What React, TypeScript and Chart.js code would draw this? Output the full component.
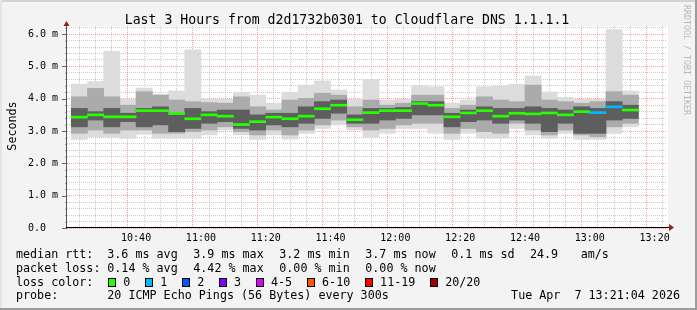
import React, { useEffect, useRef } from "react";
import { Chart, registerables } from "chart.js";

Chart.register(...registerables);

// ---- data ----
const slotTimes = [
  "10:20", "10:25", "10:30", "10:35", "10:40", "10:45", "10:50", "10:55",
  "11:00", "11:05", "11:10", "11:15", "11:20", "11:25", "11:30", "11:35",
  "11:40", "11:45", "11:50", "11:55", "12:00", "12:05", "12:10", "12:15",
  "12:20", "12:25", "12:30", "12:35", "12:40", "12:45", "12:50", "12:55",
  "13:00", "13:05", "13:10",
];
// smoke: outer range (ms)
const smokeMax = [4.45, 4.53, 5.47, 3.99, 4.33, 4.14, 4.24, 5.51, 3.99, 3.98, 4.2, 4.11, 3.86, 4.2, 4.42, 4.55, 4.27, 3.98, 4.6, 3.96, 3.98, 4.41, 4.37, 3.86, 3.96, 4.37, 4.39, 4.45, 4.7, 4.21, 4.04, 3.98, 3.98, 6.14, 4.24];
const smokeMin = [2.74, 2.82, 2.8, 2.77, 2.9, 2.77, 2.77, 2.77, 2.88, 3.03, 2.88, 2.74, 2.88, 2.75, 2.93, 3.08, 3.19, 3.03, 2.8, 2.93, 3.08, 3.08, 2.93, 2.74, 2.93, 2.77, 2.77, 3.08, 2.88, 2.77, 2.93, 2.74, 2.74, 2.93, 3.13];
// smoke: middle band
const smokeUpper = [4.06, 4.32, 4.06, 3.8, 4.22, 4.11, 3.96, 3.91, 3.88, 3.86, 4.06, 3.75, 3.65, 3.96, 4.01, 4.17, 4.11, 3.75, 3.96, 3.8, 3.86, 4.11, 4.11, 3.7, 3.8, 4.06, 3.96, 3.91, 4.42, 3.96, 3.91, 3.86, 3.91, 4.22, 4.11];
const smokeLower = [2.93, 3.03, 2.93, 3.03, 3.03, 2.93, 2.93, 2.98, 3.03, 3.13, 2.98, 2.88, 3.03, 2.88, 3.03, 3.19, 3.34, 3.13, 3.03, 3.08, 3.19, 3.24, 3.24, 2.93, 3.08, 2.98, 2.93, 3.24, 3.03, 2.88, 3.03, 2.88, 2.82, 3.13, 3.24];
// smoke: dark core
const coreUpper = [3.7, 3.6, 3.7, 3.55, 3.7, 3.75, 3.55, 3.7, 3.6, 3.65, 3.65, 3.5, 3.55, 3.55, 3.75, 3.91, 3.96, 3.5, 3.7, 3.7, 3.73, 3.91, 3.91, 3.55, 3.65, 3.75, 3.7, 3.7, 3.75, 3.7, 3.65, 3.75, 3.7, 3.91, 3.8];
const coreLower = [3.13, 3.34, 3.13, 3.29, 3.13, 3.19, 2.98, 3.08, 3.24, 3.29, 3.08, 3.03, 3.19, 3.13, 3.24, 3.39, 3.55, 3.24, 3.24, 3.34, 3.39, 3.5, 3.5, 3.13, 3.29, 3.34, 3.24, 3.34, 3.24, 2.98, 3.24, 2.93, 2.93, 3.34, 3.39];
// median rtt (ms)
const medianRtt = [3.43, 3.5, 3.44, 3.44, 3.63, 3.63, 3.54, 3.38, 3.5, 3.46, 3.2, 3.29, 3.43, 3.38, 3.46, 3.69, 3.8, 3.35, 3.57, 3.63, 3.63, 3.85, 3.8, 3.44, 3.56, 3.63, 3.46, 3.55, 3.53, 3.56, 3.5, 3.6, 3.57, 3.75, 3.65];
// lost pings out of 20
const lostPings = [0, 0, 0, 0, 0, 0, 0, 0, 0, 0, 0, 0, 0, 0, 0, 0, 0, 0, 0, 0, 0, 0, 0, 0, 0, 0, 0, 0, 0, 0, 0, 0, 1, 1, 0];

const timeTickLabels = ["10:40", "11:00", "11:20", "11:40", "12:00", "12:20", "12:40", "13:00", "13:20"];
const yTickLabels = ["0.0  ", "1.0 m", "2.0 m", "3.0 m", "4.0 m", "5.0 m", "6.0 m"];

const lossColorLabels = ["0", "1", "2", "3", "4-5", "6-10", "11-19", "20/20"];
const lossColors = ["#26ff00", "#00b8ff", "#0059ff", "#7e00ff", "#dd00ff", "#ff5500", "#ff0000", "#a10000"];

const titleText = "Last 3 Hours from d2d1732b0301 to Cloudflare DNS 1.1.1.1";
const rttStats = ["3.6 ms avg", "3.9 ms max", "3.2 ms min", "3.7 ms now", "0.1 ms sd"];
const lossStats = ["0.14 % avg", "4.42 % max", "0.00 % min", "0.00 % now"];
const amsValue = "24.9";
const amsUnit = "am/s";
const probeText = "20 ICMP Echo Pings (56 Bytes) every 300s";
const dateText = "Tue Apr  7 13:21:04 2026";

// ---- helpers ----
const MONO = "'DejaVu Sans Mono', monospace";
const toMin = (s: string) => {
  const [h, m] = s.split(":").map(Number);
  return (h - 10) * 60 + m;
};
const lossIndex = (n: number) => (n <= 3 ? n : n <= 5 ? 4 : n <= 10 ? 5 : n <= 19 ? 6 : 7);
const isWhole = (v: number) => Math.abs(v - Math.round(v)) < 1e-6;

const X_MIN = 21.25;
const X_MAX = 201.25;

const decorPlugin = {
  id: "smokeDecor",
  beforeDraw(chart: any) {
    const { ctx, chartArea: a, width, height } = chart;
    ctx.save();
    ctx.fillStyle = "#f3f3f3";
    ctx.fillRect(0, 0, width, height);
    ctx.fillStyle = "#d2d2d2";
    ctx.fillRect(0, 0, width, 2);
    ctx.fillStyle = "#e4e4e4";
    ctx.fillRect(0, 0, 2, height);
    ctx.fillStyle = "#9c9c9c";
    ctx.fillRect(0, height - 2, width, 2);
    ctx.fillRect(width - 2, 0, 2, height);
    ctx.fillStyle = "#ffffff";
    ctx.fillRect(a.left, a.top, a.right - a.left + 1, a.bottom - a.top);
    ctx.restore();
  },
  afterDraw(chart: any) {
    const { ctx, chartArea: a, scales } = chart;
    const yS = scales.y;
    ctx.save();
    // y-axis tick marks
    yS.ticks.forEach((t: any) => {
      const py = Math.round(yS.getPixelForValue(t.value)) + 0.5;
      const major = isWhole(t.value);
      ctx.strokeStyle = major ? "#666" : "#999";
      ctx.lineWidth = 1;
      ctx.beginPath();
      ctx.moveTo(a.left - (major ? 5 : 2), py);
      ctx.lineTo(a.left, py);
      ctx.stroke();
    });
    // axes
    ctx.strokeStyle = "#555";
    ctx.beginPath();
    ctx.moveTo(a.left - 0.5, a.bottom);
    ctx.lineTo(a.left - 0.5, a.top - 3);
    ctx.stroke();
    ctx.strokeStyle = "#000";
    ctx.beginPath();
    ctx.moveTo(a.left - 1, a.bottom - 0.5);
    ctx.lineTo(a.right + 3, a.bottom - 0.5);
    ctx.stroke();
    // arrows
    ctx.fillStyle = "#9b1b1b";
    ctx.beginPath();
    ctx.moveTo(a.left - 3.5, a.top);
    ctx.lineTo(a.left + 2.5, a.top);
    ctx.lineTo(a.left - 0.5, a.top - 5);
    ctx.closePath();
    ctx.fill();
    ctx.beginPath();
    ctx.moveTo(a.right + 2, a.bottom - 4);
    ctx.lineTo(a.right + 2, a.bottom + 3);
    ctx.lineTo(a.right + 7, a.bottom - 0.5);
    ctx.closePath();
    ctx.fill();

    // title
    ctx.fillStyle = "#000";
    ctx.font = `13.2px ${MONO}`;
    ctx.textAlign = "center";
    ctx.textBaseline = "alphabetic";
    ctx.fillText(titleText, 347, 24);

    // vertical axis label
    ctx.font = `11.7px ${MONO}`;
    ctx.save();
    ctx.translate(15.5, 126);
    ctx.rotate(-Math.PI / 2);
    ctx.fillText("Seconds", 0, 0);
    ctx.restore();

    // watermark
    ctx.save();
    ctx.fillStyle = "#b8b8b8";
    ctx.font = `8.3px ${MONO}`;
    ctx.textAlign = "left";
    ctx.translate(683.5, 5);
    ctx.rotate(Math.PI / 2);
    ctx.fillText("RRDTOOL / TOBI OETIKER", 0, 0);
    ctx.restore();

    // legend
    ctx.fillStyle = "#000";
    ctx.font = `11.7px ${MONO}`;
    ctx.textAlign = "left";
    const rows = [258, 271.8, 285.6, 299.4];
    const cols = [107.3, 193.3, 279.3, 365.3, 451.3];
    ctx.fillText("median rtt:", 16, rows[0]);
    rttStats.forEach((s, i) => ctx.fillText(s, cols[i], rows[0]));
    ctx.fillText(amsValue, 530, rows[0]);
    ctx.fillText(amsUnit, 580.7, rows[0]);
    ctx.fillText("packet loss:", 16, rows[1]);
    lossStats.forEach((s, i) => ctx.fillText(s, cols[i], rows[1]));
    ctx.fillText("loss color:", 16, rows[2]);
    let bx = 108.3;
    lossColorLabels.forEach((lab, i) => {
      const x0 = Math.round(bx);
      ctx.fillStyle = "#000";
      ctx.fillRect(x0, 278, 8, 9);
      ctx.fillStyle = lossColors[i];
      ctx.fillRect(x0 + 1, 279, 6, 7);
      ctx.fillStyle = "#000";
      ctx.fillText(lab, bx + 15, rows[2]);
      bx = bx + 15 + ctx.measureText(lab).width + 14.9;
    });
    ctx.fillText("probe:", 16, rows[3]);
    ctx.fillText(probeText, 107.3, rows[3]);
    ctx.textAlign = "right";
    ctx.fillText(dateText, 680, rows[3]);
    ctx.restore();
  },
};

export default function App() {
  const canvasRef = useRef<HTMLCanvasElement | null>(null);

  useEffect(() => {
    const canvas = canvasRef.current;
    if (!canvas) return;
    const centers = slotTimes.map((t) => toMin(t) + 2.5);
    const band = (lo: number[], hi: number[]) => centers.map((x, i) => ({ x, y: [lo[i], hi[i]] }));
    const common = { grouped: false, barPercentage: 1, categoryPercentage: 1, borderWidth: 0, clip: 0 };

    const chart = new Chart(canvas, {
      type: "bar",
      data: {
        datasets: [
          {
            ...common,
            label: "median rtt",
            data: centers.map((x, i) => ({ x, y: [medianRtt[i] - 0.031, medianRtt[i] + 0.031] })),
            backgroundColor: lostPings.map((n) => lossColors[lossIndex(n)]),
            order: 0,
          },
          { ...common, label: "core", data: band(coreLower, coreUpper), backgroundColor: "#5e5e5e", order: 1 },
          { ...common, label: "mid", data: band(smokeLower, smokeUpper), backgroundColor: "#ababab", order: 2 },
          { ...common, label: "outer", data: band(smokeMin, smokeMax), backgroundColor: "#dcdcdc", order: 3 },
        ] as any,
      },
      options: {
        responsive: false,
        maintainAspectRatio: false,
        devicePixelRatio: 1,
        animation: false,
        events: [],
        layout: { padding: { left: 0, right: 30, top: 26, bottom: 0 } },
        plugins: { legend: { display: false }, tooltip: { enabled: false }, title: { display: false } },
        scales: {
          x: {
            type: "linear",
            min: X_MIN,
            max: X_MAX,
            afterBuildTicks: (scale: any) => {
              const ts = [];
              for (let v = 25; v <= 200; v += 5) ts.push({ value: v });
              scale.ticks = ts;
            },
            afterFit: (scale: any) => {
              scale.height = 82;
            },
            ticks: {
              autoSkip: false,
              maxRotation: 0,
              minRotation: 0,
              padding: 4,
              color: "#000",
              font: { family: MONO, size: 10 },
              callback: (value: any) => {
                const v = Number(value);
                return v % 20 === 0 ? timeTickLabels[(v - 40) / 20] ?? "" : "";
              },
            },
            grid: {
              drawTicks: false,
              color: (c: any) => (c.tick && c.tick.value % 20 === 0 ? "rgba(255,0,0,0.38)" : "rgba(120,120,120,0.38)"),
            },
            border: { display: false, dash: [1, 1] },
          },
          y: {
            type: "linear",
            min: 0,
            max: 6.25,
            afterBuildTicks: (scale: any) => {
              const ts = [];
              for (let k = 0; k <= 31; k++) ts.push({ value: Math.round(k * 2) / 10 });
              scale.ticks = ts;
            },
            afterFit: (scale: any) => {
              scale.width = 67;
            },
            ticks: {
              autoSkip: false,
              padding: 9,
              color: "#000",
              font: { family: MONO, size: 10 },
              callback: (value: any) => {
                const v = Number(value);
                return isWhole(v) ? yTickLabels[Math.round(v)] ?? "" : "";
              },
            },
            grid: {
              drawTicks: false,
              color: (c: any) => (c.tick && isWhole(c.tick.value) ? "rgba(255,0,0,0.38)" : "rgba(120,120,120,0.38)"),
            },
            border: { display: false, dash: [1, 1] },
          },
        },
      } as any,
      plugins: [decorPlugin],
    });
    return () => chart.destroy();
  }, []);

  return (
    <div style={{ position: "absolute", left: 0, top: 0, width: 697, height: 310 }}>
      <canvas ref={canvasRef} width={697} height={310} style={{ display: "block", width: 697, height: 310 }} />
    </div>
  );
}
